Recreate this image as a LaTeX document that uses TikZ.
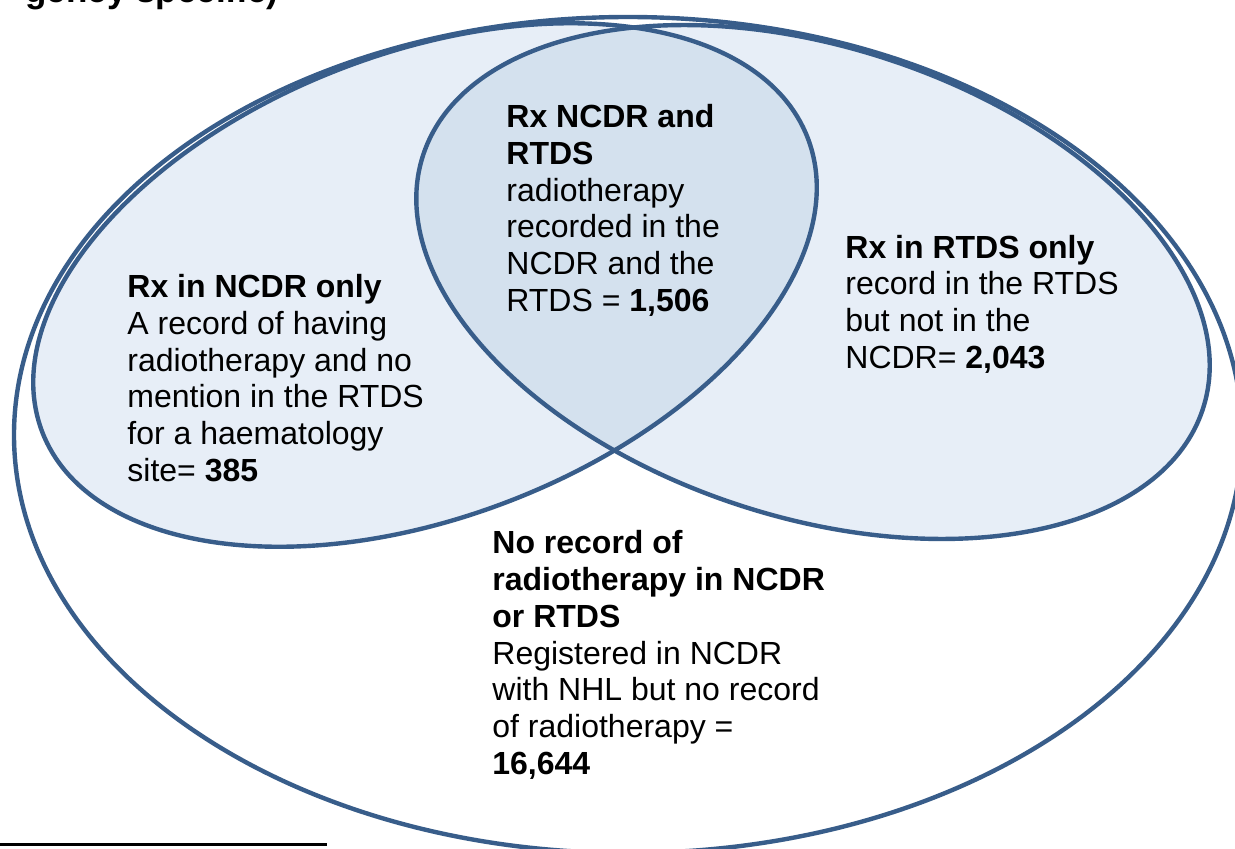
\documentclass[tikz,border=0pt]{standalone}
\usepackage{fontspec}
\setmainfont{Liberation Sans}
\definecolor{vennline}{RGB}{56,93,138}
\definecolor{vennfill}{RGB}{231,238,247}
\definecolor{lensfill}{RGB}{212,225,238}
\begin{document}
\begin{tikzpicture}[x=0.5pt,y=0.5pt,
  ring/.style={line width=2.2pt, draw=vennline},
  blocktext/.style={anchor=base west, align=left, inner sep=0pt,
    font=\fontsize{16}{18.4}\selectfont, text=black},
  headtext/.style={anchor=base west, inner sep=0pt,
    font=\fontsize{17.5}{20}\selectfont\bfseries, text=black}]
\useasboundingbox (0,0) rectangle (1235,848);
\clip (0,0) rectangle (1235,848);

% outer set: all registered patients
\path[ring, fill=white] (628,413) ellipse [x radius=614, y radius=418];

% the two record sets
\path[fill=vennfill, rotate around={21:(425,563)}]
  (425,563) ellipse [x radius=410, y radius=232];
\path[fill=vennfill, rotate around={-18:(813,566)}]
  (813,566) ellipse [x radius=410, y radius=235];

% overlap of both sets
\begin{scope}
  \clip[rotate around={21:(425,563)}] (425,563) ellipse [x radius=410, y radius=232];
  \path[fill=lensfill, rotate around={-18:(813,566)}]
    (813,566) ellipse [x radius=410, y radius=235];
\end{scope}

% outlines
\path[ring, rotate around={21:(425,563)}]
  (425,563) ellipse [x radius=410, y radius=232];
\path[ring, rotate around={-18:(813,566)}]
  (813,566) ellipse [x radius=410, y radius=235];

% texts (anchored at the baseline of their last line)
\node[blocktext] (both) at (506,536.5)
  {\textbf{Rx NCDR and}\\\textbf{RTDS}\\radiotherapy\\recorded in the\\NCDR and the\\RTDS = \textbf{1,506}};
\node[blocktext] (ncdronly) at (127,366.5)
  {\textbf{Rx in NCDR only}\\A record of having\\radiotherapy and no\\mention in the RTDS\\for a haematology\\site= \textbf{385}};
\node[blocktext] (rtdsonly) at (845,479.5)
  {\textbf{Rx in RTDS only}\\record in the RTDS\\but not in the\\NCDR= \textbf{2,043}};
\node[blocktext] (neither) at (492,73.5)
  {\textbf{No record of}\\\textbf{radiotherapy in NCDR}\\\textbf{or RTDS}\\Registered in NCDR\\with NHL but no record\\of radiotherapy =\\\textbf{16,644}};

% heading line running off the top edge
\node[headtext] (head) at (25,845.5) {gency specific)};

% footnote rule
\coordinate (ruleL) at (0,3.5);
\coordinate (ruleR) at (327,3.5);
\draw[line width=1.2pt, black] (ruleL) -- (ruleR);
\end{tikzpicture}
\end{document}
